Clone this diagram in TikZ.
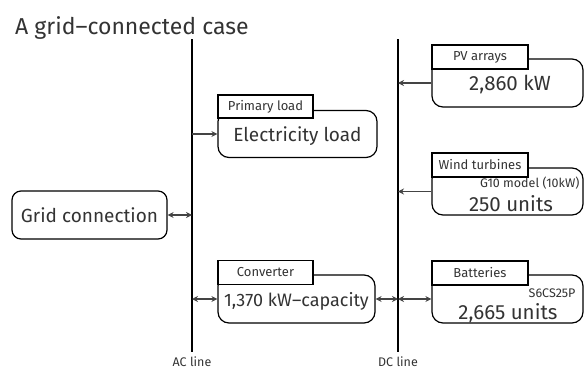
\documentclass[tikz,border=0pt]{standalone}
\usepackage{fontspec}
\setmainfont{Fira Sans}
\usetikzlibrary{arrows.meta}
\definecolor{txt}{HTML}{333333}
\definecolor{arr}{HTML}{444444}
\tikzset{
  body/.style={draw=black, line width=1.2pt, rounded corners=11pt, fill=white, inner sep=0pt, text=txt},
  tag/.style={draw=black, line width=1.2pt, fill=white, inner sep=0pt, text=txt, font=\fontsize{13}{15}\selectfont},
  bus/.style={draw=black, line width=2pt},
  con/.style={draw=arr, line width=1.3pt, -{Stealth[length=6pt,width=6pt]}},
  bicon/.style={draw=arr, line width=1.3pt, {Stealth[length=6pt,width=6pt]}-{Stealth[length=6pt,width=6pt]}},
  big/.style={font=\fontsize{19}{22}\selectfont, text=txt},
  bign/.style={font=\fontsize{20.5}{24}\selectfont, text=txt},
  small/.style={font=\fontsize{12.5}{14}\selectfont, text=txt},
}
\begin{document}
\begin{tikzpicture}[x=1pt,y=-1pt]
\useasboundingbox (0,0) rectangle (584,372);
% title
\node[anchor=west, font=\fontsize{23}{26}\selectfont, text=txt, inner sep=0pt] (title) at (15,28) {A grid–connected case};
% buses
\coordinate (actop) at (192,39);
\coordinate (acbot) at (192,352);
\coordinate (dctop) at (398,39);
\coordinate (dcbot) at (398,352);
\draw[bus] (actop) -- (acbot);
\draw[bus] (dctop) -- (dcbot);
\node[small, anchor=north, inner sep=0pt] (aclbl) at (192,357) {AC line};
\node[small, anchor=north, inner sep=0pt] (dclbl) at (398,357) {DC line};
% grid connection
\node[body, rounded corners=9pt, minimum width=155pt, minimum height=48pt, big] (grid) at (89.5,215) {Grid connection};
% electricity load
\node[body, minimum width=159pt, minimum height=47pt] (eload) at (297.5,134) {};
\node[big] (eloadt) at (297.5,136) {Electricity load};
\node[tag, minimum width=95pt, minimum height=23pt] (ptag) at (265.5,106.5) {Primary load};
% converter
\node[body, minimum width=157pt, minimum height=48pt] (conv) at (296.5,299) {};
\node[font=\fontsize{18}{21}\selectfont, text=txt] (convt) at (296.5,301) {1,370 kW–capacity};
\node[tag, minimum width=95pt, minimum height=24pt] (ctag) at (265.5,272.5) {Converter};
% PV
\node[body, minimum width=151pt, minimum height=48pt] (pv) at (507.5,83) {};
\node[bign] (pvt) at (510,85) {2,860 kW};
\node[tag, minimum width=96pt, minimum height=24pt] (pvtag) at (480,57) {PV arrays};
% wind
\node[body, minimum width=151pt, minimum height=47pt] (wind) at (507.5,191.5) {};
\node[small, anchor=east] (windm) at (583,183) {G10 model (10kW)};
\node[bign] (windt) at (511,204) {250 units};
\node[tag, minimum width=96pt, minimum height=24pt] (wtag) at (480,165) {Wind turbines};
% batteries
\node[body, minimum width=151pt, minimum height=48pt] (bat) at (507.5,299) {};
\node[small, anchor=east] (batm) at (579,293) {S6CS25P};
\node[bign] (batt) at (508,313) {2,665 units};
\node[tag, minimum width=96pt, minimum height=24pt] (btag) at (480,273) {Batteries};
% connectors
\draw[bicon] (grid.east) -- (grid.east -| actop);
\draw[con] (eload.west -| actop) -- (eload.west);
\draw[con] (pv.west) -- (pv.west -| dctop);
\draw[con] (wind.west) -- (wind.west -| dctop);
\draw[bicon] (conv.west -| actop) -- (conv.west);
\draw[bicon] (conv.east) -- (conv.east -| dctop);
\draw[bicon] (bat.west -| dctop) -- (bat.west);
\end{tikzpicture}
\end{document}
